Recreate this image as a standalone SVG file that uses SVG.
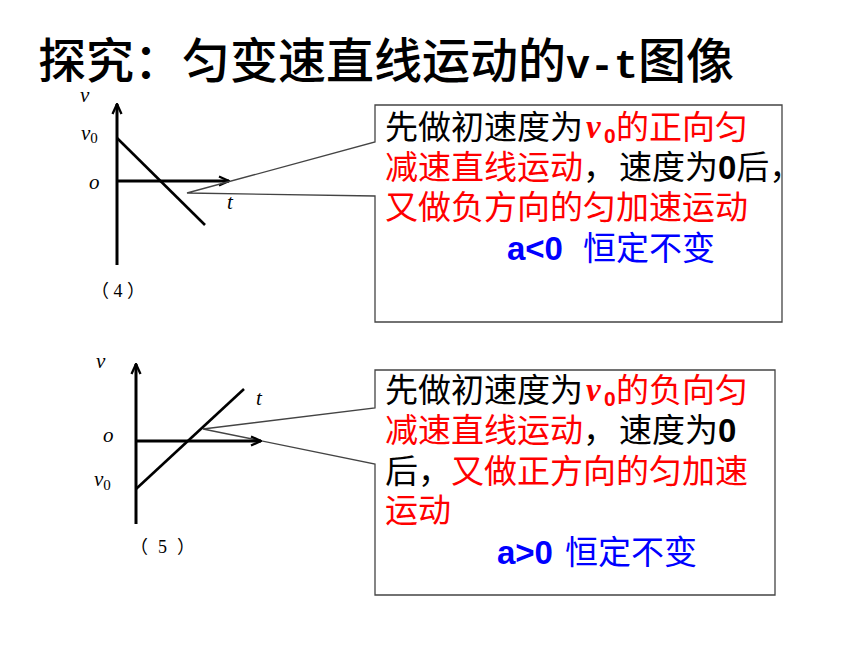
<svg xmlns="http://www.w3.org/2000/svg" width="860" height="645" viewBox="0 0 860 645">
<defs>
<style>
.cjk{font-family:"Noto Sans CJK SC","Liberation Sans",sans-serif;}
.lab{font-family:"Liberation Serif","Noto Sans CJK SC",serif;font-style:italic;font-size:21px;fill:#000;}
.sub{font-family:"Liberation Serif",serif;font-style:normal;font-size:15px;}
.num{font-family:"Liberation Serif","Noto Sans CJK SC",serif;font-size:18px;fill:#000;}
.axis{stroke:#000;stroke-width:3;fill:none;}
.plot{stroke:#000;stroke-width:2.6;fill:none;}
.callout{fill:none;stroke:#444;stroke-width:1.3;}
.body{font-family:"Noto Sans CJK SC","Liberation Sans",sans-serif;font-size:33px;}
.r{fill:#FF0000;}
.k{fill:#000;}
.b{fill:#0000FF;}
.bold{font-family:"Liberation Sans",sans-serif;font-weight:bold;}
.vi{font-family:"Liberation Serif",serif;font-weight:bold;font-style:italic;}
</style>
<marker id="arr" viewBox="0 0 12 12" refX="11" refY="6" markerWidth="12" markerHeight="12" markerUnits="userSpaceOnUse" orient="auto">
<path d="M1,1.5 L11,6 L1,10.5" fill="none" stroke="#000" stroke-width="2.3"/>
</marker>
</defs>
<rect width="860" height="645" fill="#fff"/>

<g id="title">
<text x="38" y="78" class="cjk" font-size="48" font-weight="500" fill="#000">探究：匀变速直线运动的<tspan font-family="Liberation Mono,monospace" font-size="40" font-weight="bold">v-t</tspan>图像</text>
</g>

<g id="graph4">
<line class="axis" x1="117" y1="265" x2="117" y2="104" marker-end="url(#arr)"/>
<line class="axis" x1="117" y1="181" x2="229" y2="181" marker-end="url(#arr)"/>
<line class="plot" x1="117" y1="138" x2="205" y2="225"/>
<text class="lab" x="80" y="102">v</text>
<text class="lab" x="81" y="140">v<tspan class="sub" dy="3">0</tspan></text>
<text class="lab" x="89" y="189">o</text>
<text class="lab" x="227" y="209">t</text>
<text class="num" x="91" y="297" letter-spacing="4.5">（4）</text>
</g>

<g id="connectors">
<path class="callout" d="M375,105 H782 V322 H375 V196 L187,193 L375,142 Z"/>
<path class="callout" d="M375,370 H775 V595 H375 V464 L203,429 L375,408 Z"/>
</g>

<g id="callout4" class="body">
<text y="139"><tspan x="385" class="k">先做初速度为</tspan><tspan x="586" y="138" class="r vi">v</tspan><tspan x="604" y="143" class="r bold" font-size="21">0</tspan><tspan x="616" y="139" class="r">的正向匀</tspan></text>
<text y="179"><tspan x="385" class="r">减速直线运动</tspan><tspan class="k">，</tspan><tspan x="619" class="k">速度为</tspan><tspan class="k bold">0</tspan><tspan class="k">后，</tspan></text>
<text y="219" x="385" class="r">又做负方向的匀加速运动</text>
<text y="260"><tspan x="507" class="b bold">a&lt;0</tspan><tspan x="583" class="b">恒定不变</tspan></text>
</g>

<g id="graph5">
<line class="axis" x1="136" y1="524" x2="136" y2="364" marker-end="url(#arr)"/>
<line class="axis" x1="136" y1="441" x2="261" y2="441" marker-end="url(#arr)"/>
<line class="plot" x1="136" y1="489" x2="244" y2="389"/>
<text class="lab" x="96" y="368">v</text>
<text class="lab" x="103" y="442">o</text>
<text class="lab" x="256" y="405">t</text>
<text class="lab" x="94" y="486">v<tspan class="sub" dy="4">0</tspan></text>
<text class="num" x="130" y="553" letter-spacing="10">（5）</text>
</g>

<g id="callout5" class="body">
<text y="402"><tspan x="385" class="k">先做初速度为</tspan><tspan x="586" y="401" class="r vi">v</tspan><tspan x="604" y="406" class="r bold" font-size="21">0</tspan><tspan x="616" y="402" class="r">的负向匀</tspan></text>
<text y="442"><tspan x="385" class="r">减速直线运动</tspan><tspan class="k">，</tspan><tspan x="619" class="k">速度为</tspan><tspan class="k bold">0</tspan></text>
<text y="483"><tspan x="385" class="k">后，</tspan><tspan x="451" class="r">又做正方向的匀加速</tspan></text>
<text y="522" x="385" class="r">运动</text>
<text y="564"><tspan x="497" class="b bold">a&gt;0</tspan><tspan x="565" class="b">恒定不变</tspan></text>
</g>
</svg>
